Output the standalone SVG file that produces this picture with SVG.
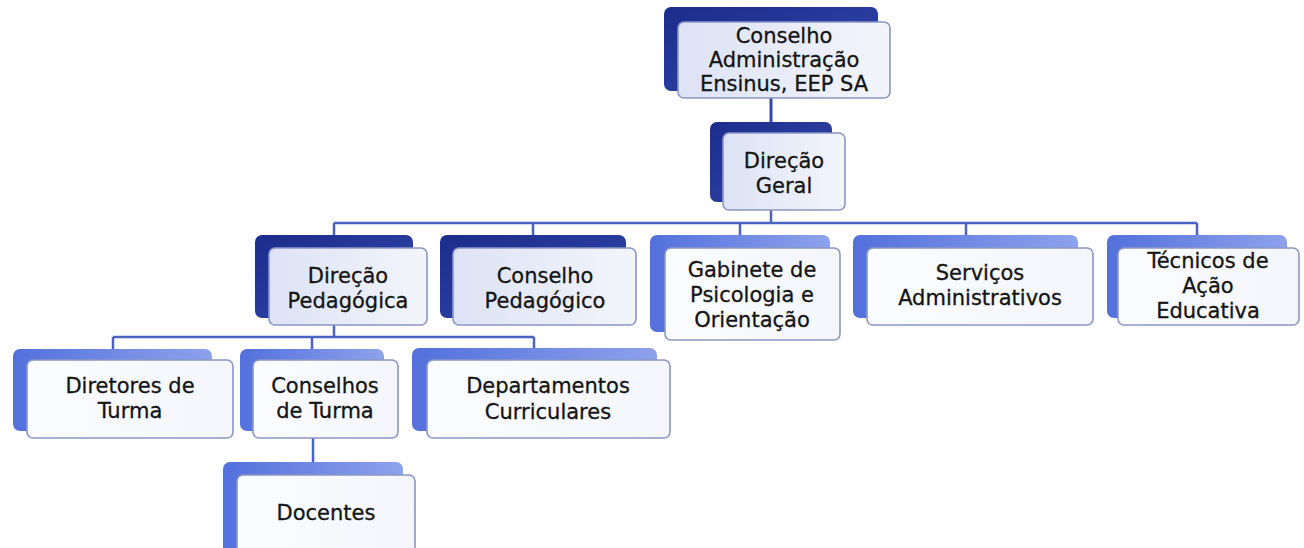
<svg xmlns="http://www.w3.org/2000/svg" width="1304" height="548" viewBox="0 0 1304 548">
<defs>
<linearGradient id="gDark" x1="0" y1="0" x2="1" y2="1">
<stop offset="0" stop-color="#1c2c8c"/>
<stop offset="1" stop-color="#3448ac"/>
</linearGradient>
<linearGradient id="gLight" x1="0" y1="0" x2="1" y2="0">
<stop offset="0" stop-color="#5370dc"/>
<stop offset="1" stop-color="#8ea2ec"/>
</linearGradient>
<linearGradient id="gTint" x1="0" y1="0" x2="1" y2="0">
<stop offset="0" stop-color="#dde3f5"/>
<stop offset="1" stop-color="#f3f5fc"/>
</linearGradient>
<linearGradient id="gWhite" x1="0" y1="0" x2="1" y2="0">
<stop offset="0" stop-color="#fbfcff"/>
<stop offset="1" stop-color="#f4f6fb"/>
</linearGradient>
</defs>
<style>
.bd{fill:url(#gDark)}
.bl{fill:url(#gLight)}
.ft{fill:url(#gTint);stroke:#8a96c4;stroke-width:1.6}
.fw{fill:url(#gWhite);stroke:#8a96c4;stroke-width:1.6}
.t{font-family:"DejaVu Sans","Noto Sans",sans-serif;font-size:21px;fill:#141414;stroke:#141414;stroke-width:0.3;text-anchor:middle}
.c{fill:none;stroke:#4a63c2;stroke-width:2.5}
.c0{fill:none;stroke:#3448a8;stroke-width:3}
</style>
<rect width="1304" height="548" fill="#ffffff"/>
<g id="connectors">
<path class="c0" d="M771 98V122"/>
<path class="c" d="M771 210V223M334 223H1197M334 223V235M533 223V235M740 223V235M966 223V235M1197 223V235"/>
<path class="c" d="M334 325V337M113 337H534M113 337V349M312 337V349M534 337V348"/>
<path class="c" d="M313 438V462"/>
</g>
<g id="n1">
<rect class="bd" x="664" y="7" width="214" height="84" rx="7"/>
<rect class="ft" x="678" y="22" width="212" height="76" rx="6"/>
<text class="t" x="784" y="43">Conselho</text>
<text class="t" x="784" y="67">Administração</text>
<text class="t" x="784" y="91">Ensinus, EEP SA</text>
</g>
<g id="n2">
<rect class="bd" x="710" y="122" width="122" height="80" rx="7"/>
<rect class="ft" x="723" y="133" width="122" height="77" rx="6"/>
<text class="t" x="784" y="168">Direção</text>
<text class="t" x="784" y="193">Geral</text>
</g>
<g id="n3">
<rect class="bd" x="255" y="235" width="158" height="83" rx="7"/>
<rect class="ft" x="269" y="248" width="158" height="77" rx="6"/>
<text class="t" x="348" y="283">Direção</text>
<text class="t" x="348" y="308">Pedagógica</text>
</g>
<g id="n4">
<rect class="bd" x="440" y="235" width="186" height="83" rx="7"/>
<rect class="ft" x="453" y="248" width="183" height="77" rx="6"/>
<text class="t" x="545" y="283">Conselho</text>
<text class="t" x="545" y="308">Pedagógico</text>
</g>
<g id="n5">
<rect class="bl" x="650" y="235" width="180" height="97" rx="7"/>
<rect class="fw" x="665" y="248" width="175" height="92" rx="6"/>
<text class="t" x="752" y="277">Gabinete de</text>
<text class="t" x="752" y="302">Psicologia e</text>
<text class="t" x="752" y="327">Orientação</text>
</g>
<g id="n6">
<rect class="bl" x="853" y="235" width="225" height="83" rx="7"/>
<rect class="fw" x="867" y="248" width="226" height="77" rx="6"/>
<text class="t" x="980" y="280">Serviços</text>
<text class="t" x="980" y="305">Administrativos</text>
</g>
<g id="n7">
<rect class="bl" x="1107" y="235" width="180" height="83" rx="7"/>
<rect class="fw" x="1118" y="248" width="181" height="77" rx="6"/>
<text class="t" x="1208" y="268">Técnicos de</text>
<text class="t" x="1208" y="293">Ação</text>
<text class="t" x="1208" y="318">Educativa</text>
</g>
<g id="n8">
<rect class="bl" x="13" y="349" width="199" height="82" rx="7"/>
<rect class="fw" x="27" y="360" width="206" height="78" rx="6"/>
<text class="t" x="130" y="393">Diretores de</text>
<text class="t" x="130" y="418">Turma</text>
</g>
<g id="n9">
<rect class="bl" x="240" y="349" width="144" height="82" rx="7"/>
<rect class="fw" x="253" y="360" width="145" height="78" rx="6"/>
<text class="t" x="325" y="393">Conselhos</text>
<text class="t" x="325" y="418">de Turma</text>
</g>
<g id="n10">
<rect class="bl" x="412" y="348" width="245" height="83" rx="7"/>
<rect class="fw" x="427" y="360" width="243" height="78" rx="6"/>
<text class="t" x="548" y="393">Departamentos</text>
<text class="t" x="548" y="419">Curriculares</text>
</g>
<g id="n11">
<rect class="bl" x="223" y="462" width="180" height="92" rx="7"/>
<rect class="fw" x="237" y="475" width="178" height="90" rx="6"/>
<text class="t" x="326" y="520">Docentes</text>
</g>
</svg>
